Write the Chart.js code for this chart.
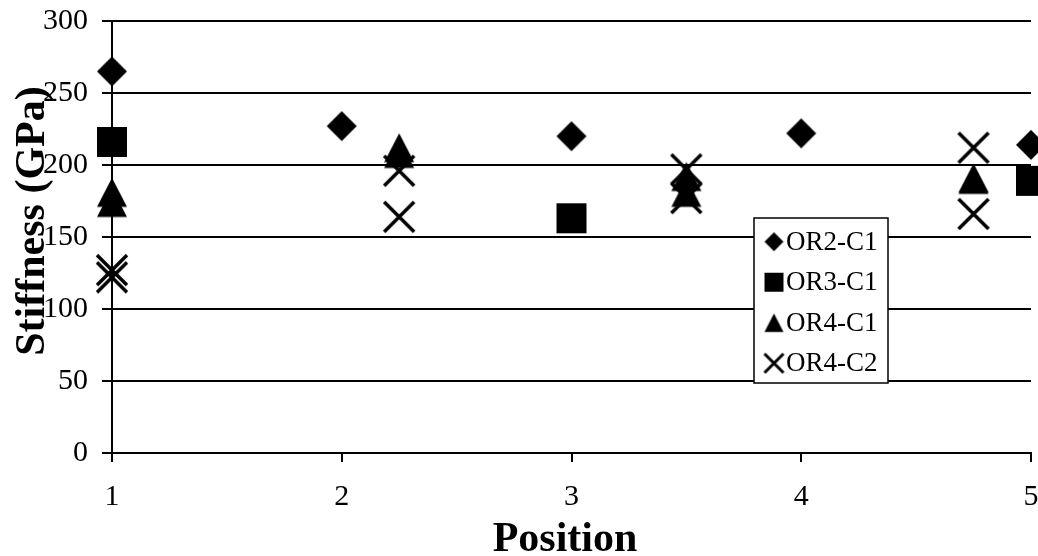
<!DOCTYPE html>
<html>
<head>
<meta charset="utf-8">
<script src="https://cdn.jsdelivr.net/npm/chart.js@4/dist/chart.umd.min.js"></script>
<style>
  html, body { margin: 0; padding: 0; background: #fff; overflow: hidden; }
  #wrap { width: 1038px; height: 556px; position: relative; }
</style>
</head>
<body>
<div id="wrap"><canvas id="chart"></canvas></div>
<script>
// Stiffness (GPa) measured at each position along the specimen
const seriesNames = ['OR2-C1', 'OR3-C1', 'OR4-C1', 'OR4-C2'];

const or2c1Pos = [1, 2, 3, 4, 5];
const or2c1Stiff = [265, 227, 220, 222, 214];

const or3c1Pos = [1, 3, 5];
const or3c1Stiff = [216, 163, 189];

const or4c1Pos = [1, 1, 2.25, 2.25, 3.5, 3.5, 4.75, 4.75];
const or4c1Stiff = [181, 174, 212, 208, 192, 181, 191, 190];

const or4c2Pos = [1, 1, 2.25, 2.25, 3.5, 3.5, 4.75, 4.75];
const or4c2Stiff = [127, 122, 196, 164, 197, 177, 212, 166];

const xTickValues = [1, 2, 3, 4, 5];
const yTickValues = [0, 50, 100, 150, 200, 250, 300];

const xTitle = 'Position';
const yTitle = 'Stiffness (GPa)';

const SERIF = '"Liberation Serif", "Times New Roman", serif';

// Solid black marker glyphs drawn onto small canvases
function makeMarker(shape, size, lineWidth) {
  const pad = 3;
  const d = size + pad * 2;
  const c = document.createElement('canvas');
  c.width = d; c.height = d;
  const g = c.getContext('2d');
  const m = d / 2, h = size / 2;
  g.fillStyle = '#000';
  g.strokeStyle = '#000';
  g.beginPath();
  if (shape === 'diamond') {
    g.moveTo(m, m - h); g.lineTo(m + h, m); g.lineTo(m, m + h); g.lineTo(m - h, m);
    g.closePath(); g.fill();
  } else if (shape === 'square') {
    g.fillRect(m - h, m - h, size, size);
  } else if (shape === 'triangle') {
    g.moveTo(m, m - h * 0.97); g.lineTo(m + h, m + h * 0.97); g.lineTo(m - h, m + h * 0.97);
    g.closePath(); g.fill();
  } else {
    g.lineWidth = lineWidth;
    g.moveTo(m - h, m - h); g.lineTo(m + h, m + h);
    g.moveTo(m + h, m - h); g.lineTo(m - h, m + h);
    g.stroke();
  }
  return c;
}

const shapes = ['diamond', 'square', 'triangle', 'cross'];
const plotMarks = shapes.map(s => makeMarker(s, 30, 3.5));
const legendMarks = shapes.map(s => makeMarker(s, 19, 3));

function toPoints(xs, ys) {
  return xs.map((x, i) => ({ x: x, y: ys[i] }));
}

// Boxed legend sitting inside the plot area
const boxLegend = {
  id: 'boxLegend',
  afterDatasetsDraw(chart) {
    const ctx = chart.ctx;
    const L = 754, T = 218, W = 134, H = 165;
    ctx.save();
    ctx.fillStyle = '#fff';
    ctx.fillRect(L, T, W, H);
    ctx.lineWidth = 1.5;
    ctx.strokeStyle = '#000';
    ctx.strokeRect(L, T, W, H);
    ctx.font = '27px ' + SERIF;
    ctx.textBaseline = 'middle';
    ctx.textAlign = 'left';
    ctx.fillStyle = '#000';
    chart.data.datasets.forEach((ds, i) => {
      const y = T + 23.7 + i * 40.5;
      const img = legendMarks[i];
      ctx.drawImage(img, 774 - img.width / 2, y - img.height / 2);
      ctx.fillText(ds.label, 786, y + 1);
    });
    ctx.restore();
  }
};

// Bold axis titles
const axisTitles = {
  id: 'axisTitles',
  afterDraw(chart) {
    const ctx = chart.ctx;
    ctx.save();
    ctx.fillStyle = '#000';
    ctx.font = 'bold 42px ' + SERIF;
    ctx.textAlign = 'center';
    ctx.textBaseline = 'alphabetic';
    ctx.fillText(xTitle, 565, 551);
    ctx.translate(44, 221);
    ctx.rotate(-Math.PI / 2);
    ctx.fillText(yTitle, 0, 0);
    ctx.restore();
  }
};

const datasets = [
  { label: seriesNames[0], data: toPoints(or2c1Pos, or2c1Stiff), pointStyle: plotMarks[0] },
  { label: seriesNames[1], data: toPoints(or3c1Pos, or3c1Stiff), pointStyle: plotMarks[1] },
  { label: seriesNames[2], data: toPoints(or4c1Pos, or4c1Stiff), pointStyle: plotMarks[2] },
  { label: seriesNames[3], data: toPoints(or4c2Pos, or4c2Stiff), pointStyle: plotMarks[3] }
].map(ds => Object.assign(ds, { clip: false, showLine: false, pointRadius: 1, pointHoverRadius: 1, pointBorderWidth: 0 }));

new Chart(document.getElementById('chart'), {
  type: 'scatter',
  data: { datasets: datasets },
  options: {
    responsive: true,
    maintainAspectRatio: false,
    animation: false,
    layout: { padding: { left: 0, right: 7, top: 21, bottom: 0 } },
    plugins: {
      legend: { display: false },
      tooltip: { enabled: false }
    },
    scales: {
      x: {
        type: 'linear',
        min: 1,
        max: 5,
        afterBuildTicks: s => { s.ticks = xTickValues.map(v => ({ value: v })); },
        afterFit: s => { s.height = 103; s.paddingLeft = 0; s.paddingRight = 0; },
        grid: { display: true, drawOnChartArea: false, drawTicks: true, tickLength: 9, color: '#000', lineWidth: 2 },
        border: { display: true, color: '#000', width: 2 },
        ticks: { color: '#000', padding: 17, maxRotation: 0, font: { family: SERIF, size: 30 } }
      },
      y: {
        type: 'linear',
        min: 0,
        max: 300,
        afterBuildTicks: s => { s.ticks = yTickValues.map(v => ({ value: v })); },
        afterFit: s => { s.width = 112; s.paddingTop = 0; s.paddingBottom = 0; },
        grid: { display: true, drawOnChartArea: true, drawTicks: true, tickLength: 10, color: '#000', lineWidth: 2 },
        border: { display: true, color: '#000', width: 2 },
        ticks: { color: '#000', padding: 14, font: { family: SERIF, size: 30 } }
      }
    }
  },
  plugins: [boxLegend, axisTitles]
});
</script>
</body>
</html>
